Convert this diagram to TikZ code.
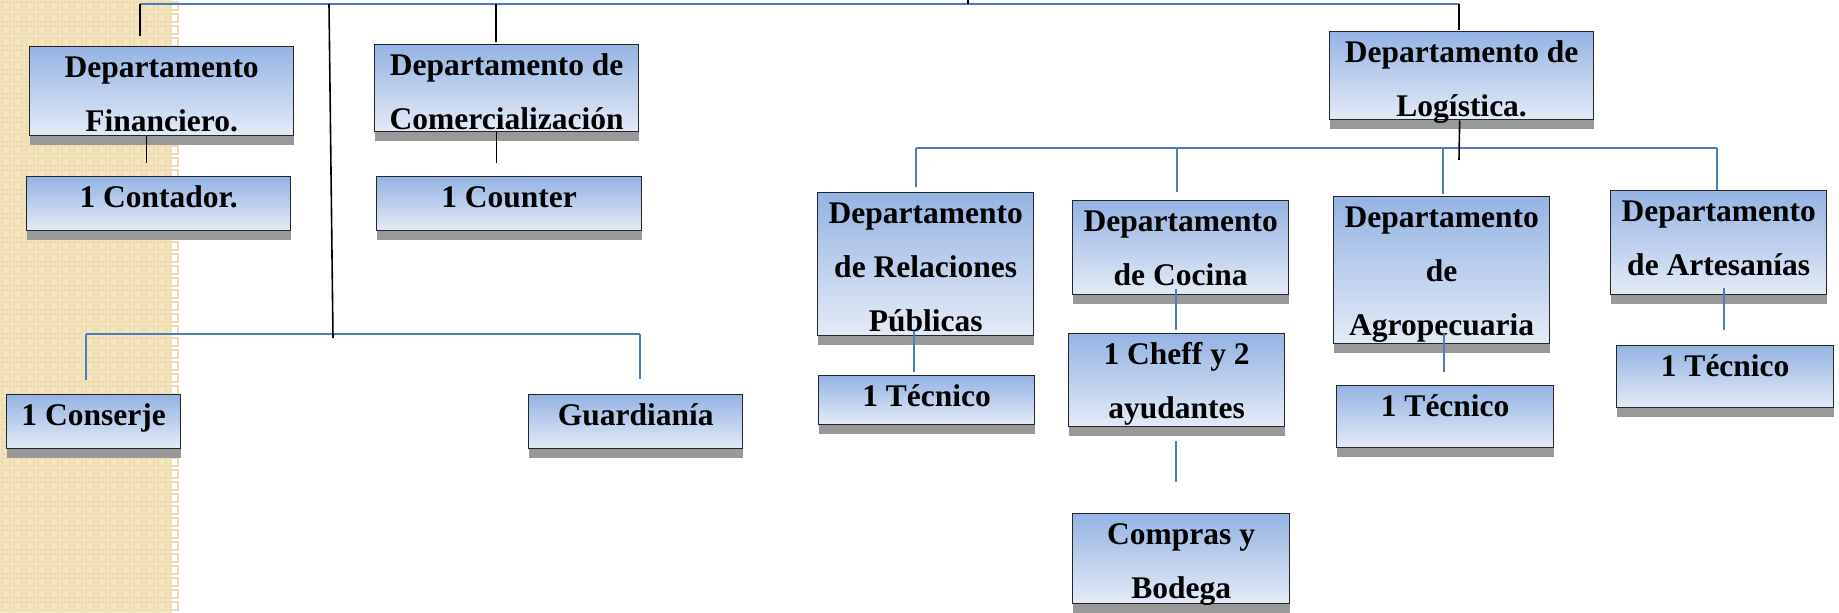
\documentclass[tikz,border=0pt]{standalone}
\usepackage{fontspec}
\setmainfont{Liberation Serif}
\usetikzlibrary{shadows}
\definecolor{bluel}{HTML}{4A7EBB}
\definecolor{boxtop}{HTML}{95B3E3}
\definecolor{boxbot}{HTML}{E4EBF7}
\definecolor{sand}{HTML}{F5E5BF}
\definecolor{sanddk}{HTML}{EDDCB2}
\tikzset{
	dept/.style={draw=black!85, line width=1.3pt, top color=boxtop, bottom color=boxbot,
		drop shadow={shadow xshift=0pt, shadow yshift=-9pt, fill=black!40, opacity=1},
		inner sep=0pt, anchor=north west, align=center,
		font=\fontsize{31.5}{54}\selectfont\bfseries},
	blk/.style={draw=black, line width=1.6pt},
	blu/.style={draw=bluel, line width=1.8pt},
}
\begin{document}
\begin{tikzpicture}[x=1pt,y=-1pt]
	\useasboundingbox (0,0) rectangle (1839,613);
	% side strip
	\fill[sand] (0,0) rectangle (172,613);
	\foreach \i in {0,...,14}
	\foreach \j in {0,...,51}
	{	\draw[sanddk, line width=2pt] (\i*12+2,\j*12+2) rectangle ++(8,8);
	}
	
	\def\boxes {fin/29/46/264/89/2/{Departamento\\Financiero.}, cont/26/176/264/54/1/{1 Contador.},
	com/374/44/264/87/2/{Departamento de\\Comercialización}, cou/376/176/265/54/1/{1 Counter},
	log/1329/31/264/88/2/{Departamento de\\Logística.},
	rel/817/192/216/143/3/{Departamento\\de Relaciones\\Públicas}, tec1/818/375/216/49/1/{1 Técnico},
	coc/1072/200/216/94/2/{Departamento\\de Cocina}, chef/1068/333/216/93/2/{1 Cheff y 2\\ayudantes},
	comp/1072/513/217/90/2/{Compras y\\Bodega},
	agro/1333/196/216/147/3/{Departamento\\de\\Agropecuaria}, tec3/1336/385/217/62/1/{1 Técnico},
	art/1610/190/216/104/2/{Departamento\\de Artesanías}, tec4/1616/345/217/62/1/{1 Técnico},
	cons/6/394/174/54/1/{1 Conserje}, guard/528/394/214/54/1/{Guardianía}}  % list elements
	\foreach \n/\x/\y/\w/\h/\nl/\txt in \boxes
	{	\pgfmathsetmacro\hh{31+54*(\nl-1)}
		\pgfmathsetmacro\dd{\h-\hh}
		\node[dept, minimum width=\w pt, text height=\hh pt, text depth=\dd pt] (\n) at (\x,\y) {\txt};
	}
	
	\coordinate (t0) at (968,0);
	\coordinate (a1) at (140,4);
	\coordinate (a2) at (496,4);
	\coordinate (a3) at (1459,4);
	\coordinate (v0) at (329,4);
	\coordinate (v1) at (333,338);
	\coordinate (m0) at (1459,160);
	\coordinate (m1) at (916,148);
	\coordinate (m2) at (1177,148);
	\coordinate (m3) at (1443,148);
	\coordinate (m4) at (1717,148);
	\coordinate (q1) at (86,334);
	\coordinate (q2) at (640,334);
	
	\draw[blu] (a1) -- (a3);
	\draw[blu] (m1) -- (m4);
	\draw[blu] (q1) -- (q2);
	\draw[blk] (t0) -- (t0 |- a1);
	\draw[blk] (v0) -- (v1);
	\draw[blk] ([xshift=-2pt]log.south) -- (m0);
	
	\foreach \u\v\gap in {a1/fin/10, a2/com/2, a3/log/1}
	{	\draw[blk, shorten >=\gap pt] (\u) -- (\u |- \v.north);
	}
	\foreach \u\v\gap in {m1/rel/5, m2/coc/8, m3/agro/2, m4/art/0, q1/cons/14, q2/guard/15}
	{	\draw[blu, shorten >=\gap pt] (\u) -- (\u |- \v.north);
	}
	\def\down {fin/cont/-15/0/13, com/cou/-10/0/13}  % list elements
	\foreach \u\v\dx\sa\sb in \down
	{	\draw[blk, shorten <=\sa pt, shorten >=\sb pt] ([xshift=\dx pt]\u.south) -- ([xshift=\dx pt]\u.south |- \v.north);
	}
	\def\downb {rel/tec1/-12/-5/3, coc/chef/-5/-6/3, chef/comp/-1/14/31, agro/tec3/2/-10/13, art/tec4/5/-7/15}
	\foreach \u\v\dx\sa\sb in \downb
	{	\draw[blu, shorten <=\sa pt, shorten >=\sb pt] ([xshift=\dx pt]\u.south) -- ([xshift=\dx pt]\u.south |- \v.north);
	}
\end{tikzpicture}
\end{document}
